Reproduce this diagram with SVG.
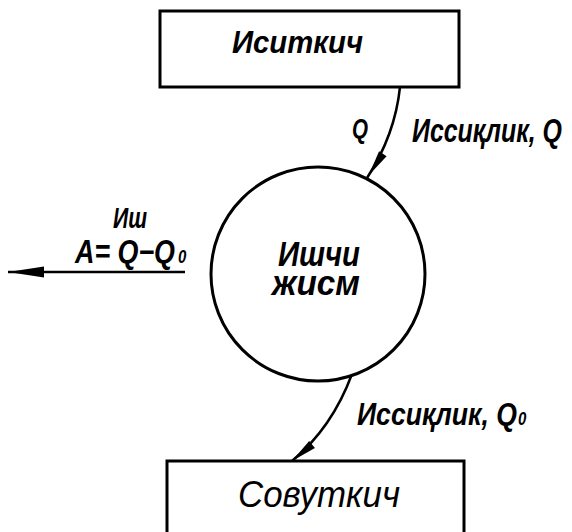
<svg xmlns="http://www.w3.org/2000/svg" width="572" height="532" viewBox="0 0 572 532">
<style>
.box{fill:#fff;stroke:#000;stroke-width:3}
.conn{fill:none;stroke:#000;stroke-width:2.5}
.t{font-family:"Liberation Sans","DejaVu Sans",sans-serif;font-style:italic;font-weight:bold;fill:#000}
.n{font-weight:normal}
</style>
<defs>
<marker id="arr" markerUnits="userSpaceOnUse" markerWidth="40" markerHeight="20" viewBox="0 -10 40 20" refX="29" refY="0" orient="auto" overflow="visible">
<path d="M0,-4.5 L26,0 L0,4.5 Z" fill="#000"/>
</marker>
<marker id="arrB" markerUnits="userSpaceOnUse" markerWidth="40" markerHeight="20" viewBox="0 -10 40 20" refX="26" refY="0" orient="auto" overflow="visible">
<path d="M0,-4.5 L26,0 L0,4.5 Z" fill="#000"/>
</marker>
<marker id="arrL" markerUnits="userSpaceOnUse" markerWidth="40" markerHeight="20" viewBox="0 -10 40 20" refX="36" refY="0" orient="auto" overflow="visible">
<path d="M0,-5.5 L36,0 L0,5.5 Z" fill="#000"/>
</marker>
</defs>
<rect width="572" height="532" fill="#fff"/>
<g id="connectors">
<path class="conn" d="M400,87 Q395,135 367,178" marker-end="url(#arr)"/>
<path class="conn" d="M352,374 Q332,428 292,461" marker-end="url(#arrB)"/>
<path class="conn" d="M185,272 L8,272" marker-end="url(#arrL)"/>
</g>
<g id="node-isitkich">
<rect class="box" x="160" y="11" width="299" height="76"/>
<text class="t" x="232" y="53" font-size="31" textLength="131" lengthAdjust="spacingAndGlyphs">Иситкич</text>
</g>
<g id="node-ishchi-jism">
<circle class="box" cx="318" cy="274" r="107"/>
<text class="t" transform="translate(278,266) scale(1,1.22)" font-size="29"><tspan x="0" y="0" textLength="82" lengthAdjust="spacingAndGlyphs">Ишчи</tspan><tspan x="-6" y="23.8" textLength="88" lengthAdjust="spacingAndGlyphs">жисм</tspan></text>
</g>
<g id="node-sovutkich">
<rect class="box" x="167" y="461" width="297" height="100"/>
<text class="t n" x="238" y="507" font-size="37" textLength="162" lengthAdjust="spacingAndGlyphs">Совуткич</text>
</g>
<g id="labels">
<text class="t" transform="translate(352,138) scale(1,1.3)" font-size="21" textLength="16" lengthAdjust="spacingAndGlyphs">Q</text>
<text class="t" transform="translate(412,142) scale(1,1.3)" font-size="25" textLength="150" lengthAdjust="spacingAndGlyphs">Иссиқлик, Q</text>
<text class="t" transform="translate(113,228) scale(1,1.3)" font-size="22" textLength="34" lengthAdjust="spacingAndGlyphs">Иш</text>
<text class="t" transform="translate(75,263) scale(1,1.2)" font-size="27"><tspan textLength="100" lengthAdjust="spacingAndGlyphs">A= Q−Q</tspan><tspan x="103" font-size="15">0</tspan></text>
<text class="t" transform="translate(357,425) scale(1,1.24)" font-size="26"><tspan textLength="160" lengthAdjust="spacingAndGlyphs">Иссиқлик, Q</tspan><tspan x="161" font-size="15">0</tspan></text>
</g>
</svg>
